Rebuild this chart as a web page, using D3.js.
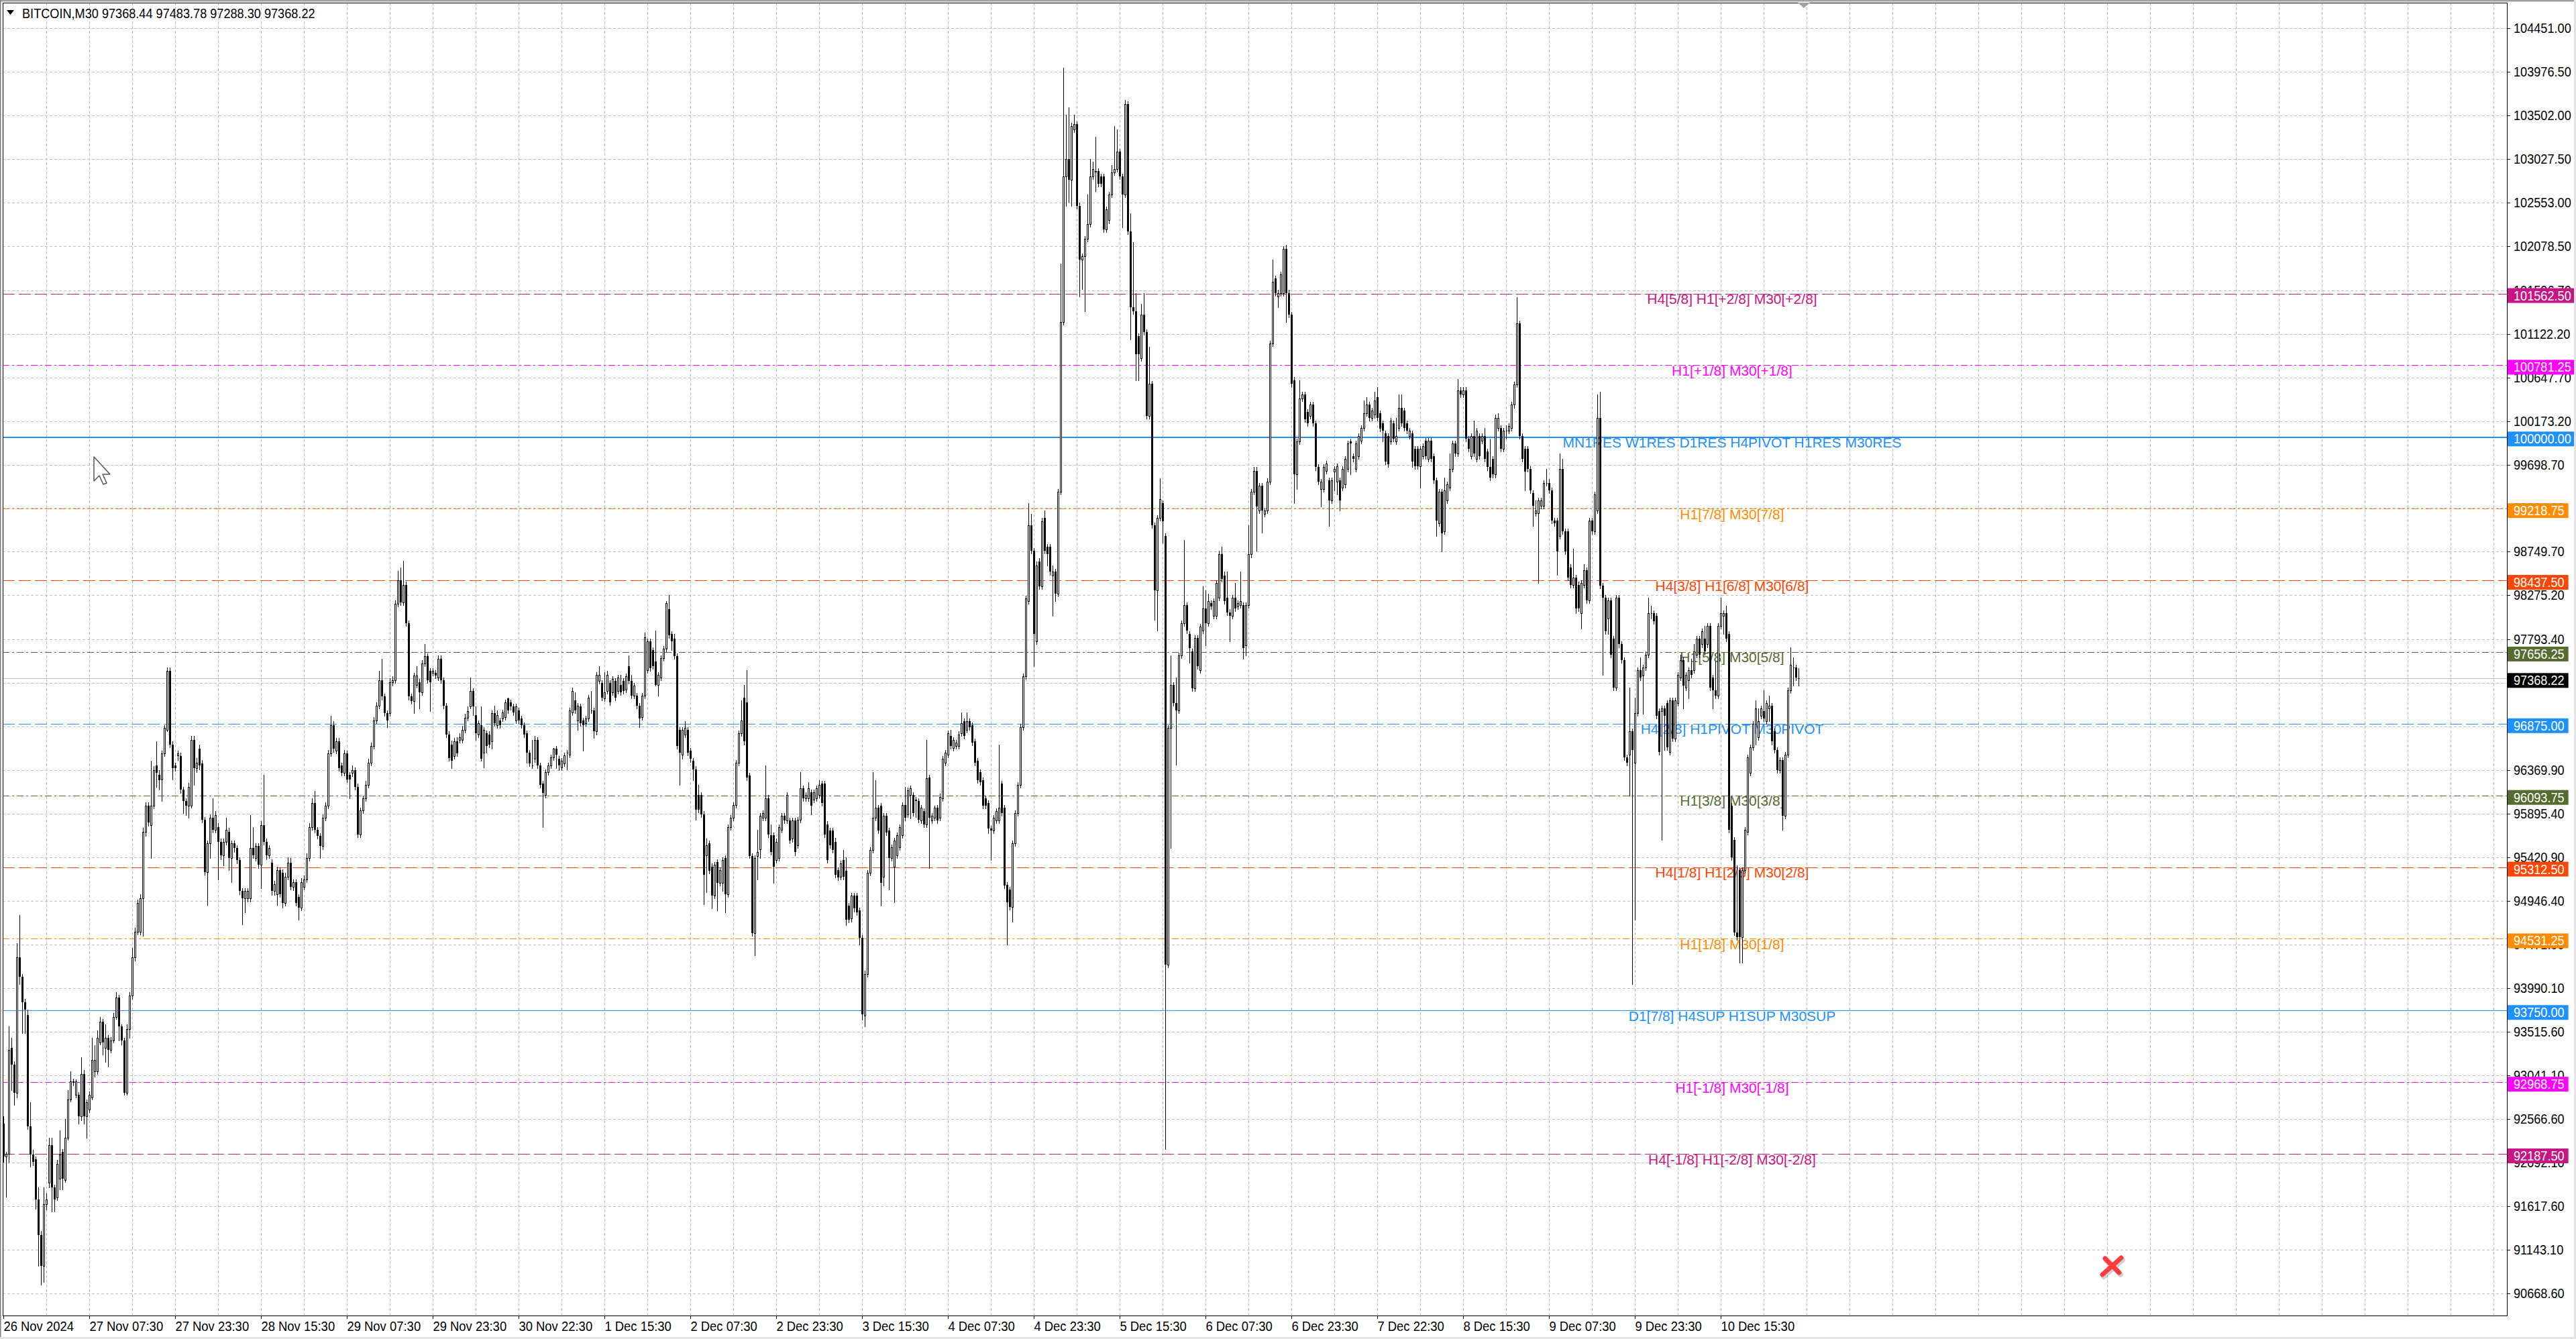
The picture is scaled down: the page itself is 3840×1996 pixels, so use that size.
<!DOCTYPE html>
<html><head><meta charset="utf-8">
<script src="https://cdn.jsdelivr.net/npm/d3@7"></script>
<style>html,body{margin:0;padding:0;background:#fff;}svg{display:block;}</style>
</head><body>
<script>
// ---------------- DATA ----------------
const symbolTitle = "BITCOIN,M30  97368.44 97483.78 97288.30 97368.22";
const currentPrice = 97368.22;
const timeLabels = ["26 Nov 2024","27 Nov 07:30","27 Nov 23:30","28 Nov 15:30","29 Nov 07:30","29 Nov 23:30","30 Nov 22:30","1 Dec 15:30","2 Dec 07:30","2 Dec 23:30","3 Dec 15:30","4 Dec 07:30","4 Dec 23:30","5 Dec 15:30","6 Dec 07:30","6 Dec 23:30","7 Dec 22:30","8 Dec 15:30","9 Dec 07:30","9 Dec 23:30","10 Dec 15:30"];
const priceTicks = [104451.00,103976.50,103502.00,103027.50,102553.00,102078.50,101596.70,101122.20,100647.70,100173.20,99698.70,99224.20,98749.70,98275.20,97793.40,97318.90,96844.40,96369.90,95895.40,95420.90,94946.40,94471.90,93990.10,93515.60,93041.10,92566.60,92092.10,91617.60,91143.10,90668.60];
const levelPrices = [101562.50,100781.25,100000.00,99218.75,98437.50,97656.25,96875.00,96093.75,95312.50,94531.25,93750.00,92968.75,92187.50];
const levelNames = ["H4[5/8] H1[+2/8] M30[+2/8]","H1[+1/8] M30[+1/8]","MN1RES W1RES D1RES H4PIVOT H1RES M30RES","H1[7/8] M30[7/8]","H4[3/8] H1[6/8] M30[6/8]","H1[5/8] M30[5/8]","H4[2/8] H1PIVOT M30PIVOT","H1[3/8] M30[3/8]","H4[1/8] H1[2/8] M30[2/8]","H1[1/8] M30[1/8]","D1[7/8] H4SUP H1SUP M30SUP","H1[-1/8] M30[-1/8]","H4[-1/8] H1[-2/8] M30[-2/8]"];

// M30 candles [open, high, low, close]
const candlesNov26to29 = [
[92520,92600,92100,92160],[92160,92210,91720,92190],[92190,93580,92100,93320],[93340,93450,92880,93160],[93160,93200,92720,92850],
[92850,94480,92800,94330],[94330,94790,94040,94120],[94120,94150,93500,93840],[93840,93880,93500,93760],[93700,93760,92460,92490],
[92490,92750,92050,92180],[92180,92230,92060,92100],[92130,92160,91590,91690],[91690,91820,90970,91300],[91300,91350,90760,90970],
[90970,91820,90790,91640],[91640,91760,91580,91690],[91870,92360,91820,92280],[92280,92360,91560,91820],[91820,91850,91560,91690],
[91710,92120,91680,92080],[91920,92440,91800,92180],[92210,92240,91800,91920],[91900,92570,91880,92360],[92360,92880,92340,92780],
[92780,93090,92760,92980],[92980,93010,92930,92960],[92830,93000,92800,92980],[92830,92860,92520,92600],[92600,93240,92550,93060],
[93060,93100,92520,92600],[92600,92780,92360,92750],[92670,92870,92640,92830],[92800,93450,92780,93210],[93090,93370,93030,93210],
[93090,93530,93060,93450],[93400,93680,93380,93630],[93630,93660,93270,93400],[93340,93600,93190,93450],[93450,93480,93140,93320],
[93320,93460,93290,93420],[93420,93720,93400,93680],[93680,93950,93660,93890],[93890,93920,93420,93580],[93580,93600,93380,93420],
[93420,93450,92830,92850],[92850,93600,92830,93550],[93550,93950,93450,93910],[93910,94430,93880,94330],[94330,94650,94290,94610],
[94610,94960,94580,94920],[94610,95020,94580,94970],[94970,95740,94560,95700],[95700,96020,95650,95980],[95980,96020,95760,95800],
[95770,96470,95410,95980],[95980,96410,95950,96370],[96420,96680,96190,96340],[96320,96370,96160,96260],[96270,96580,96030,96550],
[96550,96860,96520,96830],[96810,97490,96790,97450],[97450,97490,96620,96650],[96650,96680,96270,96390],[96420,96450,96360,96390],
[96530,96580,96480,96550],[96520,96560,96120,96160],[96160,96190,95900,96030],[96030,96060,95880,95980],[95980,96230,95850,96190],
[95980,96740,95960,96700],[96700,96740,96210,96390],[96390,96500,96350,96450],[96600,96650,96380,96420],[96440,96480,95800,95830],
[95830,95860,95230,95260],[95260,95600,94900,95570],[95570,95890,95410,95850],[95850,96060,95690,95720],[95720,95920,95690,95880],
[95750,95790,95180,95590],[95590,95620,95400,95440],[95440,95620,95330,95590],[95590,95850,95560,95720],[95700,95740,95280,95410],
[95410,95600,95150,95570],[95570,95600,95480,95520],[95520,95550,95350,95390],[95390,95420,95020,95050],[95050,95080,94690,94970],
[94970,95080,94820,95050],[94970,95080,94940,95050],[94970,95880,94940,95520],[95520,95750,95410,95440],[95410,95570,95380,95540],
[95540,95570,95300,95340],[95340,95810,95080,95770],[95770,96320,95560,95590],[95590,95620,95400,95440],[95440,95550,95410,95520],
[95360,95400,95010,95050],[95050,95160,95010,95130],[95020,95320,94900,95280],[95280,95310,94990,95020],[95250,95290,94870,94920],
[94920,95250,94890,95210],[95210,95420,95180,95360],[95360,95410,95070,95100],[95100,95180,95060,95150],[95150,95180,94890,94920],
[94990,95020,94740,94870],[94870,95190,94840,95150],[95100,95220,95070,95180],[95180,95460,95150,95410],[95410,95790,95380,95750],
[95750,96060,95720,96010],[96010,96140,95690,95720],[95720,95750,95620,95650],[95650,95680,95410,95540],[95540,95890,95510,95850],
[95850,96020,95820,95980],[95980,96590,95950,96550],[96550,96960,96520,96860],[96860,96900,96570,96600],[96580,96720,96550,96680],
[96680,96720,96360,96390],[96420,96450,96310,96340],[96340,96590,96310,96550],[96550,96580,96240,96270],[96320,96350,96060,96270],
[96340,96420,96300,96370],[96370,96400,96160,96190],[96190,96220,95640,95670],[95670,95960,95640,95930],[95930,96090,95900,96060],
[96060,96250,96030,96210],[96210,96490,96180,96450],[96450,96670,96420,96630],[96630,96950,96600,96910],[96910,97110,96880,97070],
[97070,97450,97040,97350],[97350,97580,97140,97170],[97170,97200,96960,96990],[96990,97020,96840,96910],[96990,97370,96960,97330],
[97330,97390,97290,97350],[97350,98220,97320,98180],[98180,98540,98150,98440],[98440,98580,98170,98200],[98200,98650,98170,98390],
[98390,98420,97940,97970],[97970,98000,97140,97170],[97170,97200,97090,97120],[97120,97430,96990,97400],[97300,97500,97270,97400],
[97330,97360,97040,97220],[97220,97570,97190,97530],[97530,97740,97500,97610],[97610,97640,97320,97350],[97450,97480,97010,97330],
[97430,97480,97400,97450],[97430,97460,97370,97400],[97380,97620,97350,97580],[97580,97620,97320,97350],[97350,97380,97040,97070],
[97070,97100,96730,96760],[96760,96790,96470,96500],[96650,96690,96390,96470],[96520,96720,96490,96680],[96680,96730,96520,96550],
[96700,96770,96670,96730],[96700,96850,96670,96810],[96810,96980,96780,96940],[96940,97060,96910,97010]
];
const candlesNov29toDec4 = [
[97060,97380,97040,97230],[97230,97260,96970,97060],[96970,97060,96700,96770],[96760,96910,96730,96880],[96860,97060,96470,96490],
[96560,96840,96400,96810],[96770,96800,96560,96630],[96760,96790,96620,96650],[96680,97020,96600,96990],[96990,97070,96850,96880],
[96860,97020,96830,96970],[96910,96940,96830,96860],[96930,97030,96900,97000],[96950,97140,96920,97110],[97150,97160,96990,97020],
[97110,97140,97030,97060],[97060,97090,96970,97000],[96910,97090,96880,97060],[97020,97050,96880,96910],[96930,96960,96830,96860],
[96860,96890,96730,96760],[96770,96800,96450,96560],[96560,96590,96410,96440],[96420,96700,96390,96420],[96490,96740,96460,96700],
[96700,96730,96390,96420],[96420,96450,96180,96210],[96220,96250,95750,96120],[96100,96380,96070,96350],[96350,96450,96320,96420],
[96420,96540,96390,96510],[96510,96610,96480,96600],[96600,96630,96390,96540],[96490,96520,96370,96420],[96400,96500,96370,96470],
[96440,96560,96410,96530],[96560,96590,96380,96560],[96540,97050,96510,97020],[97000,97270,96970,97230],[97130,97220,96990,97020],
[96910,97100,96810,97070],[97060,97090,96850,96880],[96910,96940,96580,96860],[96880,96960,96850,96930],[96930,97190,96900,97160],
[97020,97230,96990,97020],[97020,97050,96720,96790],[96790,97440,96760,97410],[97340,97500,97310,97410],[97320,97350,97130,97160],
[97150,97440,97120,97220],[97230,97450,97200,97410],[97320,97350,97080,97110],[97220,97390,97190,97360],[97340,97370,97130,97160],
[97230,97410,97200,97380],[97300,97410,97190,97220],[97340,97370,97200,97230],[97250,97420,97220,97390],[97500,97620,97310,97340],
[97340,97410,97150,97180],[97180,97320,97150,97290],[97180,97210,97040,97070],[97070,97100,96840,96930],[96950,97210,96920,97180],
[97180,97870,97150,97820],[97460,97800,97430,97770],[97770,97800,97450,97480],[97680,97710,97470,97500],[97550,97890,97290,97300],
[97300,97440,97180,97410],[97380,97620,97350,97590],[97590,97720,97560,97690],[97690,98210,97660,98190],[98120,98280,97810,97840],
[97850,97880,97680,97770],[97800,97850,97580,97610],[97610,97640,96600,96630],[96810,96840,96210,96560],[96540,96840,96490,96810],
[96760,96900,96730,96830],[96810,96840,96530,96560],[96580,96610,96460,96490],[96470,96500,96260,96380],[96380,96410,95830,95940],
[96100,96210,95910,95940],[96100,96130,95860,95890],[95890,95920,94910,95230],[95440,95620,95040,95550],[95570,95600,95240,95270],
[95320,95350,94860,95000],[95000,95370,94970,95340],[95370,95400,94840,95140],[95140,95310,95110,95280],[95140,95420,95050,95390],
[95410,95440,94820,95020],[95020,95780,94990,95750],[95750,95880,95720,95850],[95850,96020,95820,95990],[95990,96480,95960,96450],
[96450,96800,96420,96770],[96770,97130,96740,96910],[97160,97300,96650,96680],[97110,97460,96260,96290],[96310,96340,95410,95430],
[95430,95460,94560,94590],[94590,95440,94350,95410],[95430,95720,95180,95480],[95510,95900,95410,95870],[95850,95930,95820,95900],
[95850,96420,95820,96060],[96060,96100,95640,95670],[95660,95780,95450,95480],[95660,95690,95140,95320],[95390,95620,95360,95590],
[95410,95780,95380,95750],[95720,95900,95690,95870],[95870,95900,95790,95820],[95820,96130,95790,96100],[95820,95850,95570,95600],
[95620,95850,95590,95820],[95820,95850,95440,95480],[95550,95860,95520,95830],[95830,96350,95800,96170],[96170,96200,96030,96060],
[96060,96130,96030,96100],[96060,96240,96030,96170],[96130,96160,95890,95980],[96050,96160,96020,96130],[96060,96200,96030,96170],
[96100,96260,96070,96210],[96220,96250,95980,96010],[96220,96250,95640,95670],[95780,95810,95360,95390],[95710,95740,95520,95550],
[95710,95740,95470,95500],[95590,95630,95200,95230],[95280,95310,95170,95200],[95210,95380,95180,95350],[95390,95500,95180,95210],
[95270,95420,94680,94740],[94890,94920,94710,94740],[94750,95030,94720,95000],[95000,95030,94830,94860],[95000,95030,94790,94820],
[94840,94870,94470,94540],[94540,94570,93650,93710],[93690,94180,93580,94150],[94150,95280,94120,95250],[95250,95530,95220,95500],
[95500,96350,95470,95850],[95850,96260,95820,95960],[95960,95990,95680,95710],[95980,96010,94890,95140],[95210,95900,95110,95870],
[95870,95900,95660,95690],[95710,95740,95070,95410],[95410,95560,95380,95530],[95320,95630,94930,95600],[95440,95690,95410,95660],
[95530,95780,95500,95750],[95660,96020,95630,95990],[95990,96190,95820,95850],[95890,96180,95860,96150],[96100,96200,95840,96170],
[96100,96130,95870,95900],[96050,96080,95860,96030],[96030,96060,95800,95830],[95820,95990,95790,95960],[95920,95950,95750,95780],
[95780,96700,95750,96280],[96290,96320,95300,95850],[95820,95900,95790,95870],[95850,95980,95820,95960],[95960,95990,95790,95820],
[95850,96110,95820,96080],[96060,96520,96030,96490],[96450,96590,96420,96560],[96540,96800,96510,96770],[96740,96810,96600,96630],
[96610,96730,96580,96700],[96630,96700,96600,96670],[96630,96790,96600,96760],[96770,97000,96740,96880],[96900,96930,96710,96740],
[96810,97000,96780,96900],[96900,96930,96810,96840],[96860,96890,96640,96670],[96680,96710,96420,96450],[96470,96500,96230,96260],
[96350,96380,96210,96240],[96260,96290,95950,95980],[96060,96090,95950,95980],[96010,96040,95680,95730],[95730,95760,95390,95710],
[95710,95880,95680,95850],[95820,95950,95790,95920],[95820,96650,95790,95960],[96220,96250,95870,95900],[95960,95990,95080,95110],
[95120,95150,94470,94930],[95070,95100,94850,94880],[94880,95600,94720,95570],[95570,95930,95540,95900],[95900,96240,95870,96210],
[96210,96870,96180,96840],[96840,97420,96810,97390],[97390,98270,97360,98240]
];
const candlesDec4to6 = [
[98210,99280,98180,99040],[99040,99160,98730,98760],[98760,98790,97500,97850],[97770,98640,97740,98600],[98640,98680,98340,98370],
[98370,99120,98340,99080],[99120,99200,98730,98760],[98800,98830,98600,98720],[98800,98830,98500,98530],[98490,98600,98050,98530],
[98530,98560,98210,98290],[98290,99430,98260,99400],[99400,101890,99370,101250],[101250,104020,101220,102840],[102840,103510,102520,103030],
[103030,103590,102560,102800],[102800,103420,102520,103390],[103350,103510,103320,103410],[103410,103440,102490,102520],[102520,102550,101530,101930],
[101930,102000,101610,101970],[101970,102190,101370,102160],[102160,102640,102130,102320],[102320,103030,102290,102840],[102840,103000,102810,102920],
[102890,103270,102680,102900],[102900,102930,102730,102760],[102840,102870,102730,102760],[102840,102870,102230,102260],[102260,102510,102230,102480],
[102360,102670,102330,102640],[102640,102960,102610,102880],[102880,103390,102850,102920],[102920,103350,102890,103110],[103110,103140,102810,102840],
[102840,102870,102280,102640],[102640,103670,102610,103630],[103630,103660,102210,102240],[102240,102440,101060,101410],[101410,102120,101340,101370],
[101370,101570,100620,100900],[101100,101130,100620,100900],[100860,101450,100830,101330],[101330,101570,101110,101140],[101140,101170,100200,100230],
[100230,100980,100200,100580],[100580,100610,99010,99040],[99040,99070,98010,98330],[98330,99150,97890,99120],[99120,99550,99090,99320],
[99280,99310,98850,99080],[98920,98950,92240,94250],[94250,96860,94220,96830],[96830,97620,95520,97300],[97300,97330,97070,97100],
[97100,97380,96430,97020],[97020,97650,96990,97620],[97620,98000,97590,97970],[97970,98880,97940,98170],[98170,98200,97860,97890],
[97850,97880,97540,97700],[97660,97690,97230,97260],[97260,97840,97230,97810],[97810,97840,97470,97500],[97460,97960,97430,97930],
[97890,98370,97860,98130],[98130,98330,97730,97970],[97970,98290,97940,98210],[98190,98220,98120,98150],[98050,98240,98020,98210],
[98050,98440,98020,98410],[98250,98760,98220,98720],[98720,98800,98420,98450],[98490,98530,98180,98210],[98250,98530,98060,98090],
[98090,98120,97770,98050],[98050,98280,98020,98250],[98250,98410,98100,98130],[98150,98220,98120,98190],[98170,98530,98140,98210],
[98170,98200,97580,97700],[97730,98200,97620,98170],[98170,99040,98140,98720],[98720,99430,98690,99400],[99400,99670,99370,99630],
[99630,99670,98760,99240],[99200,99500,99170,99470],[99470,99500,98960,99200],[99160,99230,99130,99200],[99200,99550,99170,99510],
[99510,101050,99480,101020],[101020,101930,100990,101690],[101730,101760,101540,101570],[101530,101600,101410,101570],[101570,101800,101540,101770],
[101570,102080,101540,102050],[102050,102090,101250,101570],[101570,101600,101300,101330],[101330,101360,100540,100580],[100620,100650,99280,99590],
[99590,99980,99430,99950],[99950,100620,99920,100420],[100420,100490,100390,100460],[100460,100490,100160,100190],[100270,100300,100120,100150],
[100230,100380,100200,100350],[100350,100380,100120,100150],[100150,100180,99640,99670],[99670,99700,99480,99510],[99430,99540,99240,99510],
[99430,99700,99400,99670],[99630,99740,99600,99710]
];
const candlesDec6to11 = [
[99530,99560,99030,99310],[99310,99560,99280,99530],[99620,99680,99420,99650],[99510,99710,99370,99680],[99530,99560,99200,99310],
[99450,99680,99420,99650],[99480,99790,99450,99760],[99650,99960,99620,99930],[99950,99980,99590,99930],[99790,99820,99730,99760],
[99650,99960,99620,99930],[99790,100040,99760,100010],[99960,100130,99930,100100],[100100,100400,100070,100260],[100260,100430,100230,100350],
[100350,100380,100180,100210],[100210,100320,100180,100290],[100240,100490,100210,100400],[100430,100540,100180,100210],[100260,100290,100060,100090],
[100150,100180,99950,100070],[100040,100070,99700,99730],[100010,100040,99670,99700],[99950,100210,99920,100180],[100150,100180,99950,99980],
[99950,100210,99920,100010],[100100,100460,100070,100320],[100320,100460,100120,100150],[100290,100320,100070,100100],[100150,100180,100040,100070],
[100010,100100,99980,100070],[100040,100070,99670,99730],[99870,99900,99650,99680],[99870,99900,99650,99680],[99680,99900,99450,99870],
[99790,99930,99760,99900],[99960,99990,99760,99790],[99760,99990,99730,99960],[99960,99990,99730,99760],[99790,99820,99500,99530],
[99530,99560,98920,99090],[99060,99430,99030,99400],[99400,99430,98750,98950],[98970,99560,98940,99420],[99310,99510,99280,99480],
[99450,99820,99420,99650],[99650,99960,99620,99930],[99930,99960,99790,99820],[99820,100630,99790,100510],[100510,100540,100430,100460],
[100460,100540,100430,100510],[100510,100540,99950,99980],[99980,100010,99840,99870],[99790,100040,99760,100010],[100010,100180,99790,99820],
[99760,100100,99730,100070],[100010,100040,99760,99790],[99960,100040,99930,100010],[100010,100100,99730,99760],[99840,99870,99640,99670],
[99670,99980,99530,99560],[99760,99790,99560,99590],[99590,100240,99560,100210],[100100,100260,100070,100210],[100100,100130,99840,99870],
[99870,100100,99840,100070],[100070,100130,99980,100070],[100070,100150,100040,100120],[100100,100380,100070,100350],[100350,100600,100320,100570],
[100570,101520,100540,101240],[101240,101270,99980,100010],[100010,100040,99730,99760],[99870,99900,99420,99620],[99870,99900,99620,99650],
[99650,99680,99390,99420],[99390,99420,99030,99250],[99170,99310,99140,99200],[99170,99340,98410,99310],[99250,99340,99220,99310],
[99250,99530,99220,99500],[99500,99650,99470,99500],[99500,99540,99390,99420],[99420,99450,99060,99090],[99090,99120,99030,99060],
[99090,99120,98500,98750],[98920,99820,98890,99650],[99650,99760,98940,98970],[98970,99000,98720,98750],[98970,99000,98440,98470],
[98580,98610,98360,98390],[98390,98780,98360,98470],[98470,98500,98080,98130],[98390,98420,98100,98130],[98080,98440,97910,98410],
[98390,98610,98360,98550],[98550,98580,98190,98220],[98220,99120,98190,99090],[99090,99120,98940,98970],[98970,99400,98940,99370],
[99200,100460,99170,100210],
[100210,100490,98350,98380],[98380,98410,97410,98250],[98250,98280,97850,97880],[98020,98250,97850,98220],[98220,98250,97600,97630],
[97800,97830,97240,97270],[97270,98280,97240,98250],[98250,98280,97710,97740],[97740,97770,97540,97570],[97570,97600,96480,96510],
[96510,96540,96420,96450],[96540,97270,96090,96790],[96790,96820,94040,96590],[96450,97160,94740,96990],[96990,97490,96960,97460],
[97460,97600,97350,97380],[97400,97520,96980,97490],[97490,97660,97460,97630],[97630,98250,97600,98080],[98080,98160,98020,98080],
[98080,98110,97960,97990],[98050,98080,96930,96960],[97010,97040,96540,96570],[97010,97070,95610,97040],[97040,97070,96590,96960],
[97100,97130,96590,96620],[96570,97160,96540,97130],[97130,97160,96680,96710],[96710,97160,96680,97130],[97100,97440,97070,97410],
[97380,97630,97350,97570],[97570,97600,97040,97290],[97270,97440,97240,97410],[97350,97490,97150,97460],[97460,97580,97380,97410],
[97460,97740,97430,97660],[97630,97830,97600,97800],[97800,97830,97600,97630],[97740,97910,97710,97880],[97800,97940,97630,97660],
[97740,97970,97710,97940],[97940,97970,97240,97270],[97380,97410,97040,97240],[97240,97550,97150,97180],[97180,97970,97150,97940],
[97940,98250,97910,98080],[98050,98110,97850,98080],[98080,98160,97770,97800],[97850,97880,95690,95720],[95980,96010,95390,95420],
[95610,95640,94570,94600],[94600,95330,94520,94550],[95280,95310,94270,94550],[94550,95310,94270,95280],[95280,95750,95250,95720],
[95700,96540,95670,96510],[96340,96650,96310,96620],[96620,96900,96590,96870],[96870,97130,96650,97040],[96730,97040,96700,96900],
[96960,97070,96930,97040],[97010,97240,96900,96930],[96900,97130,96870,97100],[97040,97180,96900,97070],[97070,97100,96650,96680],
[96790,96820,96560,96590],[96590,96620,96340,96370],[96370,96510,96340,96480],[96480,96510,95720,95870],[95870,96570,95840,96540],
[96540,97270,96510,97240],[97240,97710,97210,97520],[97490,97600,97290,97490],[97490,97520,97350,97380],
[97368.44,97483.78,97288.30,97368.22]
];

// ---------------- STYLE ----------------
const levelColors = ["#C71585","#FF00FF","#1E90FF","#FF8C00","#FF4500","#556B2F","#1E90FF","#556B2F","#FF4500","#FF8C00","#1E90FF","#FF00FF","#C71585"];
const levelDash = ["18,6","10,4,3,4",null,"10,4,3,4","18,6","10,4,3,4","18,6","10,4,3,4","18,6","10,4,3,4",null,"10,4,3,4","18,6"];
const UI_FONT = "'Liberation Sans', Arial, sans-serif";
const UI_SIZE = 19.5, SQUEEZE = 0.93;

// ---------------- CHART ----------------
const W = 3840, H = 1996;
const plot = {l:4, t:4, r:3737, b:1961};
const candles = [...candlesNov26to29, ...candlesNov29toDec4, ...candlesDec4to6, ...candlesDec6to11];

const xs = d3.scaleLinear().domain([0, 933]).range([5.4, 3737.4]);
const ys = d3.scaleLinear().domain([90426, 104732]).range([plot.b, plot.t]);
const crisp = v => Math.round(v) + 0.5;

const svg = d3.select("body").append("svg").attr("width", W).attr("height", H)
  .attr("viewBox", `0 0 ${W} ${H}`);
svg.append("rect").attr("width", W).attr("height", H).attr("fill", "#fff");

function squeeze(sel, f) {
  sel.each(function(){ const L = this.getComputedTextLength();
    d3.select(this).attr("textLength", L*f).attr("lengthAdjust","spacingAndGlyphs"); });
}

// grid
const grid = svg.append("g").attr("stroke","#c0c0c0").attr("stroke-width",1).attr("stroke-dasharray","4,3").attr("shape-rendering","crispEdges");
grid.selectAll("line.h").data(priceTicks).join("line").attr("class","h")
  .attr("x1", plot.l).attr("x2", plot.r).attr("y1", d=>crisp(ys(d))).attr("y2", d=>crisp(ys(d)));
const vBars = d3.range(16, 934, 16);
grid.selectAll("line.v").data(vBars).join("line").attr("class","v")
  .attr("y1", plot.t).attr("y2", plot.b).attr("x1", d=>crisp(xs(d))).attr("x2", d=>crisp(xs(d)));

// level lines
const lv = svg.append("g").attr("shape-rendering","crispEdges");
lv.selectAll("line").data(levelPrices).join("line")
  .attr("x1", plot.l).attr("x2", plot.r)
  .attr("y1", d=>crisp(ys(d))).attr("y2", d=>crisp(ys(d)))
  .attr("stroke", (d,i)=>levelColors[i])
  .attr("stroke-width", (d,i)=> i===2 ? 2 : 1)
  .attr("stroke-dasharray", (d,i)=>levelDash[i]);
// current price line
svg.append("line").attr("x1", plot.l).attr("x2", plot.r)
  .attr("y1", crisp(ys(currentPrice))).attr("y2", crisp(ys(currentPrice)))
  .attr("stroke","#c0c0c0").attr("stroke-width",1).attr("shape-rendering","crispEdges");

// level labels
svg.append("g").selectAll("text").data(levelPrices).join("text")
  .attr("x", 2582).attr("y", d=>ys(d)+15.5)
  .attr("text-anchor","middle")
  .attr("font-family", UI_FONT).attr("font-size", 21)
  .attr("fill", (d,i)=>levelColors[i])
  .text((d,i)=>levelNames[i]);

// candles
const cg = svg.append("g").attr("shape-rendering","crispEdges");
cg.selectAll("line").data(candles).join("line")
  .attr("x1", (d,i)=>crisp(xs(i))).attr("x2", (d,i)=>crisp(xs(i)))
  .attr("y1", d=>Math.round(ys(d[1]))).attr("y2", d=>Math.round(ys(d[2]))+1)
  .attr("stroke","#000").attr("stroke-width",1);
const bull = candles.map((d,i)=>({d,i})).filter(o=>o.d[3] >= o.d[0]);
const bear = candles.map((d,i)=>({d,i})).filter(o=>o.d[3] < o.d[0]);
cg.selectAll("rect.bear").data(bear).join("rect").attr("class","bear")
  .attr("x", o=>Math.round(xs(o.i))-1).attr("width", 3)
  .attr("y", o=>Math.round(ys(o.d[0])))
  .attr("height", o=>Math.max(1, Math.round(ys(o.d[3]))-Math.round(ys(o.d[0]))))
  .attr("fill","#000");
cg.selectAll("path.bull").data(bull).join("path").attr("class","bull")
  .attr("d", o=>{
    const n = Math.round(xs(o.i));
    const top = Math.round(ys(o.d[3])) + 0.5, bot = Math.round(ys(o.d[0])) + 0.5;
    return `M${n-0.5},${top}H${n+1.5}V${bot}H${n-0.5}Z`;
  })
  .attr("fill","#fff").attr("stroke","#000").attr("stroke-width",1);

// frame
svg.append("rect").attr("x", plot.l+0.5).attr("y", plot.t+0.5)
  .attr("width", plot.r-plot.l).attr("height", plot.b-plot.t)
  .attr("fill","none").attr("stroke","#000").attr("stroke-width",1).attr("shape-rendering","crispEdges");

// right axis
const ra = svg.append("g");
ra.selectAll("line").data(priceTicks).join("line")
  .attr("x1", plot.r).attr("x2", plot.r+5).attr("y1", d=>crisp(ys(d))).attr("y2", d=>crisp(ys(d)))
  .attr("stroke","#000").attr("shape-rendering","crispEdges");
ra.selectAll("text").data(priceTicks).join("text")
  .attr("x", plot.r+10).attr("y", d=>ys(d)+7)
  .attr("font-family", UI_FONT).attr("font-size", UI_SIZE).attr("fill","#000")
  .text(d=>d.toFixed(2)).call(squeeze, SQUEEZE);

// price boxes
const boxes = levelPrices.map((p,i)=>({p, c:levelColors[i]})).concat([{p:currentPrice, c:"#000"}]);
const bg = svg.append("g");
bg.selectAll("g").data(boxes).join("g").each(function(b){
  const g = d3.select(this);
  const r = g.append("rect").attr("fill", b.c).attr("x", plot.r+1).attr("y", ys(b.p)+3-11).attr("height", 22);
  const t = g.append("text").attr("x", plot.r+10).attr("y", ys(b.p)+3+7)
    .attr("font-family", UI_FONT).attr("font-size", UI_SIZE).attr("fill","#fff").text(b.p.toFixed(2));
  squeeze(t, SQUEEZE);
  r.attr("width", +t.attr("textLength") + 15);
});

// bottom axis
const ba = svg.append("g");
ba.selectAll("line").data(timeLabels).join("line")
  .attr("x1", (d,i)=>crisp(xs(i*32))).attr("x2", (d,i)=>crisp(xs(i*32)))
  .attr("y1", plot.b).attr("y2", plot.b+5).attr("stroke","#000").attr("shape-rendering","crispEdges");
ba.selectAll("text").data(timeLabels).join("text")
  .attr("x", (d,i)=>xs(i*32)).attr("y", 1984)
  .attr("font-family", UI_FONT).attr("font-size", 20.5).attr("fill","#000")
  .text(d=>d).call(squeeze, 0.9);

// title
svg.append("path").attr("d","M10,15H21L15.5,22Z").attr("fill","#000");
svg.append("text").attr("x", 33).attr("y", 27)
  .attr("font-family", UI_FONT).attr("font-size", UI_SIZE).attr("fill","#000")
  .text(symbolTitle).call(squeeze, SQUEEZE);

// chart shift marker
svg.append("path").attr("d","M2680,4H2698L2689,12Z").attr("fill","#a0a0a0");

// mouse cursor
svg.append("path").attr("transform","translate(140,681)")
  .attr("d","M0,0V36L8,28L14,41L19,39L13,26H24Z")
  .attr("fill","#fff").attr("stroke","#555").attr("stroke-width",1.5).attr("stroke-linejoin","round");

// red cross object
const rx = svg.append("g").attr("stroke-linecap","round");
rx.append("path").attr("d","M3134,1900L3162,1875M3138,1876L3159,1897")
  .attr("stroke","rgba(0,0,0,0.18)").attr("stroke-width",8).attr("transform","translate(2,3)");
rx.append("path").attr("d","M3134,1900L3162,1875M3138,1876L3159,1897")
  .attr("stroke","#ff3b3b").attr("stroke-width",7);

// window border
svg.append("rect").attr("x",0).attr("y",0).attr("width",W).attr("height",2.5).attr("fill","#a0a0a0");
svg.append("rect").attr("x",0).attr("y",0).attr("width",1.5).attr("height",H).attr("fill","#808080");
svg.append("rect").attr("x",W-3).attr("y",0).attr("width",3).attr("height",H).attr("fill","#e3e3e3");
svg.append("rect").attr("x",0).attr("y",H-3).attr("width",W).attr("height",3).attr("fill","#e3e3e3");
</script>
</body></html>
